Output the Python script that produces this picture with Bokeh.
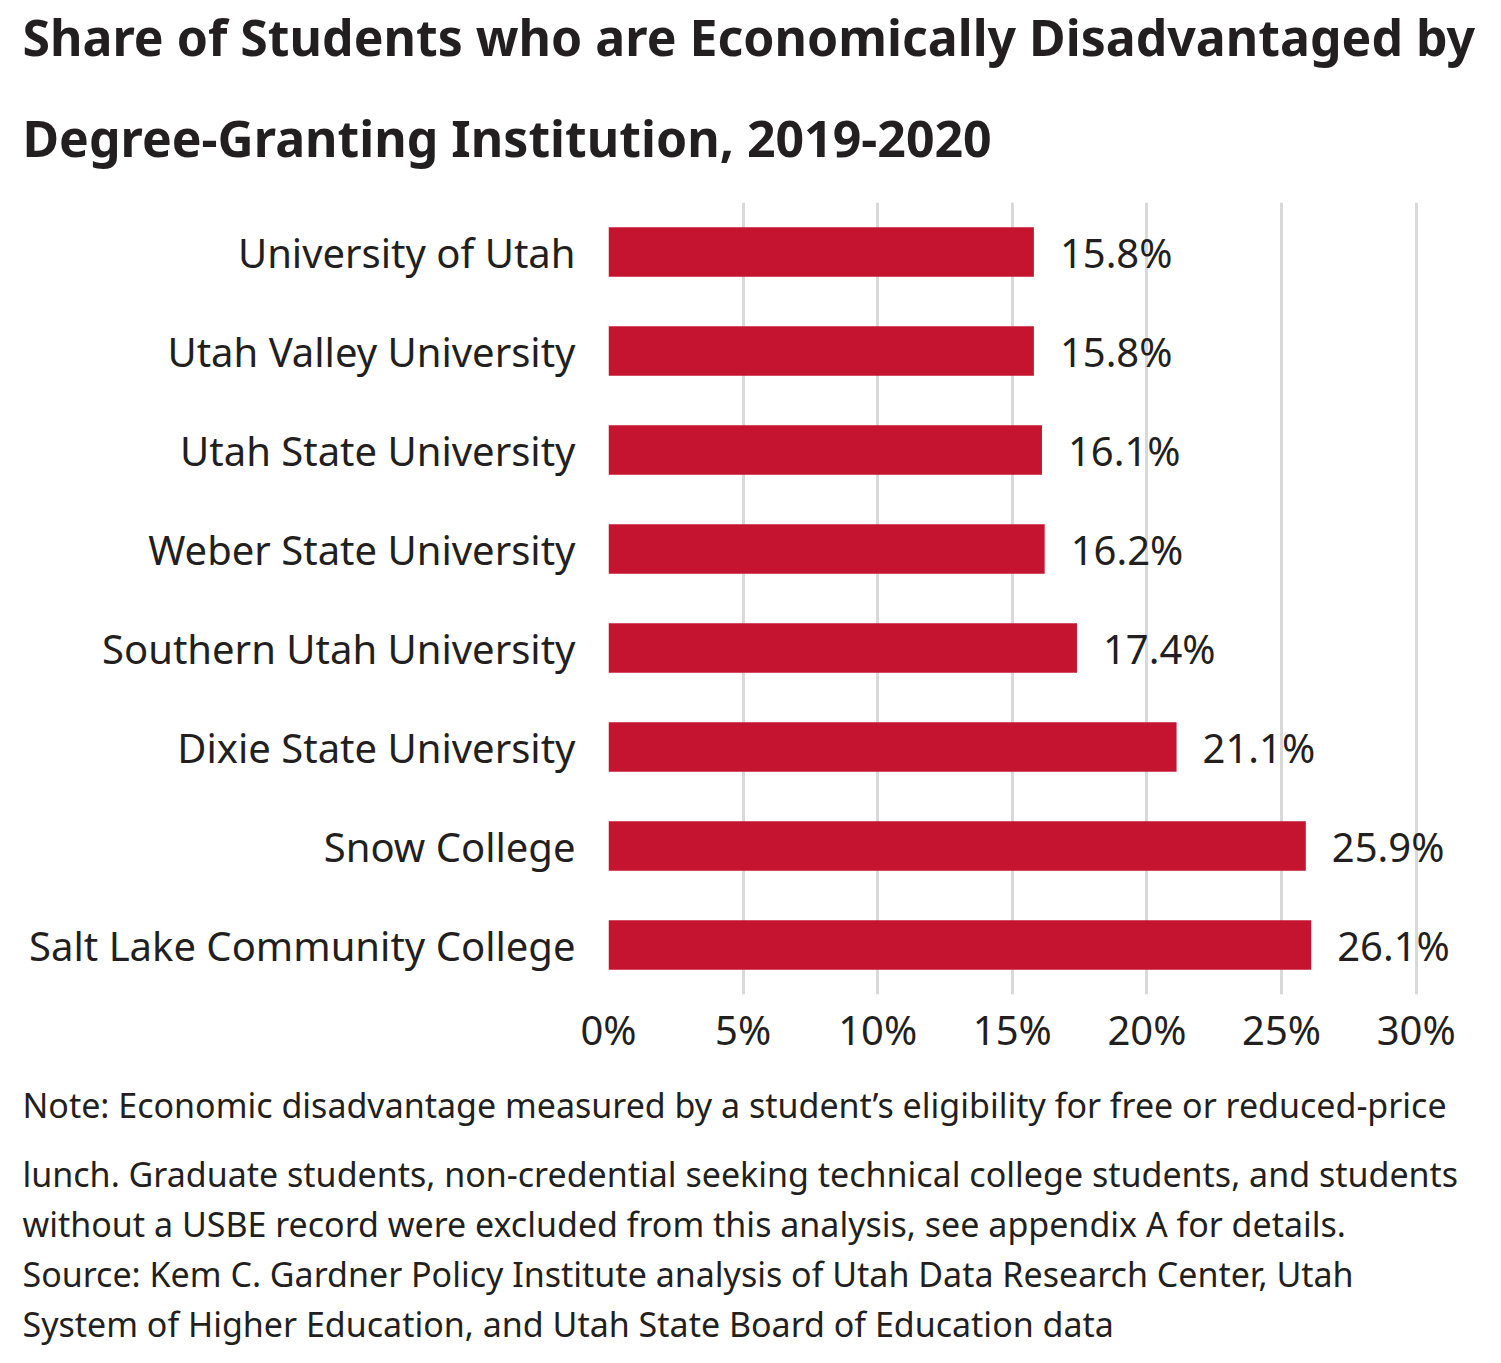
from bokeh.plotting import figure
from bokeh.models import Title, ColumnDataSource, FactorRange, Range1d, FixedTicker
from bokeh.embed import file_html
from bokeh.resources import INLINE

institutions = ["University of Utah", "Utah Valley University", "Utah State University",
                "Weber State University", "Southern Utah University", "Dixie State University",
                "Snow College", "Salt Lake Community College"]
shares = [15.8, 15.8, 16.1, 16.2, 17.4, 21.1, 25.9, 26.1]
value_labels = ["15.8%", "15.8%", "16.1%", "16.2%", "17.4%", "21.1%", "25.9%", "26.1%"]
x_ticks = [0, 5, 10, 15, 20, 25, 30]

title_lines = ["Share of Students who are Economically Disadvantaged by",
               "Degree-Granting Institution, 2019-2020"]
note_lines = ["Note: Economic disadvantage measured by a student\u2019s eligibility for free or reduced-price",
              "lunch. Graduate students, non-credential seeking technical college students, and students",
              "without a USBE record were excluded from this analysis, see appendix A for details.",
              "Source: Kem C. Gardner Policy Institute analysis of Utah Data Research Center, Utah",
              "System of Higher Education, and Utah State Board of Education data"]

FONT = "Noto Sans"
TXT = "#231f20"
W, H = 1485, 1347
ML, MT = 608, 197
FRAME_H = 798
X_END = 32.5
FRAME_W = int(round(X_END * 808 / 30))
MR = W - ML - FRAME_W
MB = H - MT - FRAME_H

src = ColumnDataSource(dict(inst=institutions, share=shares, lab=value_labels))

p = figure(width=W, height=H, output_backend="svg", toolbar_location=None,
           y_range=FactorRange(factors=list(reversed(institutions)), range_padding=0),
           x_range=Range1d(0, X_END),
           min_border_left=ML, min_border_right=MR, min_border_top=MT, min_border_bottom=MB)
p.outline_line_color = None
p.background_fill_color = "white"

p.hbar(y="inst", right="share", left=0, height=0.5, source=src,
       fill_color="#C5142F", line_color=None)
p.text(x="share", y="inst", text="lab", source=src, x_offset=26,
       text_baseline="middle", text_align="left", text_font_size="40px",
       text_font={"value": FONT}, text_color=TXT)

p.ygrid.grid_line_color = None
p.xgrid.grid_line_color = "#d9d9d9"
p.xgrid.grid_line_width = 3
p.xaxis.ticker = FixedTicker(ticks=x_ticks)
p.xaxis.major_label_overrides = {t: f"{t}%" for t in x_ticks}
for ax in (p.xaxis, p.yaxis):
    ax.axis_line_color = None
    ax.major_tick_line_color = None
    ax.minor_tick_line_color = None
    ax.major_label_text_font = FONT
    ax.major_label_text_font_size = "40px"
    ax.major_label_text_color = TXT
p.xaxis.major_label_standoff = 1
p.yaxis.major_label_standoff = 27

LEFT_OFFSET = 22 - ML
# titles above: the last added sits outermost
title_standoffs = [1, 61]
for t, s in reversed(list(zip(title_lines, title_standoffs))):
    p.add_layout(Title(text=t, align="left", offset=LEFT_OFFSET, standoff=s,
                       text_font=FONT, text_font_style="bold", text_font_size="50px",
                       text_color=TXT), "above")
for i, t in enumerate(note_lines):
    p.add_layout(Title(text=t, align="left", offset=LEFT_OFFSET, standoff=40 if i == 0 else 2,
                       text_font=FONT, text_font_style="normal", text_font_size="34px",
                       text_color=TXT), "below")

open("out.html", "w").write(file_html(p, INLINE))
